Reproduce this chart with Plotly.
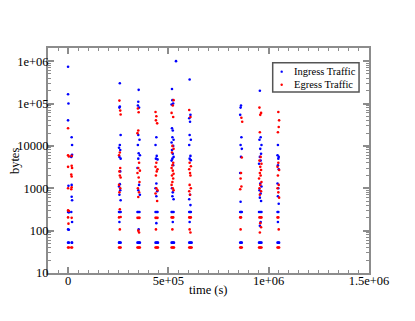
import plotly.graph_objects as go

# ingress traffic: (time in s, bytes), one line per burst
ingress_time = [
    0, 0, 2000, 0, 18000, 20000, 18000, 20000, 16000, 18000, 2000, 18000, 20000, 0, 4000, 16000, 20000, 0, 4000, 0, 4000, 18000, 20000,
    258000, 258000, 256000, 262000, 258000, 254000, 260000, 256000, 262000, 258000, 254000, 260000, 256000, 262000, 258000, 254000, 262000, 256000, 260000, 254000, 258000, 262000, 256000,
    352000, 350000, 348000, 354000, 350000, 356000, 348000, 352000, 358000, 350000, 346000, 354000, 350000, 358000, 346000, 350000, 356000, 352000, 346000, 350000, 354000, 358000,
    440000, 436000, 442000, 438000, 446000, 440000, 436000, 444000, 440000, 436000, 442000, 446000, 440000, 436000, 440000, 444000, 448000,
    538000, 518000, 520000, 524000, 516000, 518000, 522000, 520000, 526000, 516000, 524000, 518000, 522000, 526000, 520000, 516000, 524000, 518000, 522000, 520000, 526000, 516000, 520000, 526000, 522000, 516000, 520000, 524000, 528000,
    606000, 610000, 604000, 608000, 606000, 612000, 604000, 610000, 606000, 612000, 608000, 604000, 610000, 604000, 608000, 612000, 606000, 604000, 608000, 612000, 616000,
    862000, 860000, 858000, 864000, 860000, 866000, 862000, 858000, 860000, 858000, 862000, 866000, 858000, 862000, 866000,
    956000, 960000, 954000, 964000, 958000, 962000, 956000, 960000, 952000, 958000, 964000, 954000, 960000, 956000, 962000, 952000, 958000, 964000, 960000, 956000, 952000, 956000, 960000, 964000,
    1046000, 1044000, 1050000, 1048000, 1046000, 1050000, 1044000, 1048000, 1046000, 1050000, 1044000, 1048000, 1046000, 1044000, 1048000, 1052000,
]
ingress_bytes = [
    740000, 165000, 100000, 40000, 16000, 10500, 5800, 6200, 5500, 1200, 1150, 630, 520, 275, 270, 275, 160, 107, 105, 52, 52, 52, 52,
    300000, 85000, 80000, 18000, 10500, 9000, 8000, 5500, 5000, 1250, 1100, 900, 700, 520, 275, 275, 275, 160, 2500, 52, 52, 52, 52,
    210000, 110000, 90000, 80000, 18000, 14000, 10500, 6700, 6000, 5000, 3000, 1200, 900, 700, 275, 275, 275, 107, 52, 52, 52, 52,
    16000, 10500, 5800, 5000, 4800, 1300, 1000, 850, 650, 275, 275, 275, 150, 52, 52, 52, 52,
    1000000, 220000, 120000, 100000, 95000, 26000, 23000, 16000, 14000, 12000, 10000, 8000, 6500, 5500, 5000, 4500, 3500, 1000, 800, 650, 550, 275, 275, 275, 160, 52, 52, 52, 52,
    370000, 54000, 45000, 37000, 18000, 14000, 10500, 5800, 5000, 4600, 700, 550, 400, 275, 275, 275, 160, 52, 52, 52, 52,
    90000, 80000, 54000, 16000, 10500, 8500, 5500, 2300, 480, 275, 275, 275, 52, 52, 52,
    200000, 16000, 14000, 10500, 8500, 6500, 5500, 4500, 3800, 1300, 1100, 900, 750, 600, 500, 275, 275, 275, 160, 130, 52, 52, 52, 52,
    10500, 6000, 5500, 5000, 3500, 2800, 1300, 1000, 650, 430, 275, 275, 160, 52, 52, 52,
]

# egress traffic: (time in s, bytes)
egress_time = [
    0, 0, 4000, 18000, 0, 18000, 20000, 16000, 18000, 0, 16000, 18000, 0, 4000, 0, 18000, 2000, 0, 4000, 16000, 20000,
    256000, 260000, 262000, 258000, 254000, 260000, 256000, 258000, 262000, 254000, 260000, 256000, 258000, 262000, 254000, 258000, 254000, 258000, 262000,
    348000, 352000, 350000, 346000, 354000, 350000, 358000, 346000, 352000, 356000, 348000, 354000, 350000, 346000, 352000, 356000, 350000, 354000, 346000, 350000, 354000, 358000,
    436000, 440000, 438000, 444000, 440000, 436000, 446000, 442000, 438000, 440000, 446000, 436000, 444000, 436000, 440000, 446000, 438000, 436000, 440000, 444000, 448000,
    526000, 522000, 516000, 524000, 520000, 526000, 518000, 524000, 520000, 516000, 522000, 526000, 518000, 524000, 520000, 516000, 522000, 526000, 516000, 520000, 524000, 520000, 516000, 520000, 524000, 528000,
    604000, 610000, 606000, 612000, 604000, 608000, 610000, 606000, 612000, 604000, 608000, 604000, 608000, 612000, 606000, 610000, 604000, 608000, 612000, 616000,
    864000, 868000, 866000, 862000, 860000, 864000, 858000, 858000, 862000, 860000, 858000, 862000, 866000,
    954000, 962000, 958000, 956000, 960000, 954000, 964000, 958000, 962000, 956000, 960000, 952000, 964000, 958000, 954000, 962000, 956000, 960000, 954000, 964000, 958000, 962000, 956000, 952000, 956000, 960000, 964000,
    1048000, 1052000, 1050000, 1046000, 1048000, 1044000, 1052000, 1046000, 1050000, 1044000, 1048000, 1052000, 1044000, 1048000, 1050000, 1044000, 1048000, 1052000,
]
egress_bytes = [
    26000, 6000, 5600, 5800, 3200, 3400, 3000, 2100, 1900, 1000, 950, 1050, 300, 290, 205, 200, 146, 40, 40, 40, 40,
    117000, 68000, 55000, 7000, 6000, 3000, 2500, 2000, 1800, 1200, 1000, 800, 320, 210, 205, 107, 40, 40, 40,
    76000, 62000, 23000, 20000, 4000, 3000, 2600, 2300, 1800, 1400, 1000, 800, 620, 200, 200, 200, 100, 90, 40, 40, 40, 40,
    63000, 50000, 40000, 34000, 4000, 3200, 2800, 2500, 2000, 1000, 900, 750, 500, 200, 200, 200, 107, 40, 40, 40, 40,
    120000, 90000, 60000, 48000, 10000, 8500, 7000, 4000, 3500, 3000, 2600, 2200, 2000, 1700, 1400, 1200, 1000, 900, 205, 205, 205, 107, 40, 40, 40, 40,
    70000, 48000, 4000, 3300, 2800, 2300, 2000, 1200, 1000, 850, 700, 205, 205, 205, 107, 90, 40, 40, 40, 40,
    46000, 37000, 5300, 2300, 1700, 1100, 950, 205, 205, 107, 40, 40, 40,
    80000, 60000, 54000, 21000, 5500, 4500, 3800, 3200, 2700, 2300, 2000, 1700, 1400, 1200, 1000, 850, 700, 205, 205, 205, 150, 120, 90, 40, 40, 40, 40,
    63000, 40000, 28000, 21000, 4000, 3200, 2700, 2000, 1200, 1000, 800, 600, 205, 205, 107, 40, 40, 40,
]

series_names = ["Ingress Traffic", "Egress Traffic"]
series_colors = ["#0000ff", "#ff0000"]

x_tickvals = [0, 500000, 1000000, 1500000]
x_ticktext = ["0", "5e+05", "1e+06", "1.5e+06"]
y_tickvals = [10, 100, 1000, 10000, 100000, 1000000]
y_ticktext = ["10", "100", "1000", "10000", "1e+05", "1e+06"]

serif = "Liberation Serif"
axis_grey = "#8c8c8c"

fig = go.Figure()

for name, color, xs, ys in zip(series_names, series_colors,
                               [ingress_time, egress_time],
                               [ingress_bytes, egress_bytes]):
    fig.add_trace(go.Scatter(
        x=xs, y=ys, mode="markers", name=name, showlegend=False,
        marker=dict(color=color, size=2.6, line_width=0)
    ))

# minor ticks of the log axis: 2..9 in each decade
y_minor = [m * 10 ** k for k in range(1, 7) for m in range(2, 10)]

fig.update_xaxes(
    range=[-100000, 1500000], automargin=False,
    tickvals=x_tickvals, ticktext=x_ticktext, ticklabelstandoff=-5,
    ticks="inside", ticklen=6, tickwidth=1.5, tickcolor=axis_grey,
    minor=dict(dtick=50000, tick0=0, ticks="inside", ticklen=3, tickcolor=axis_grey, tickwidth=1),
    showline=True, linecolor=axis_grey, linewidth=2, mirror="allticks",
    showgrid=False, zeroline=False,
)
fig.update_yaxes(
    type="log", range=[1, 6.31], automargin=False,
    tickvals=y_tickvals, ticktext=y_ticktext, ticklabelstandoff=-5,
    ticks="inside", ticklen=6, tickwidth=1.5, tickcolor=axis_grey,
    minor=dict(tickvals=y_minor, ticks="inside", ticklen=3, tickcolor=axis_grey, tickwidth=1),
    showline=True, linecolor=axis_grey, linewidth=2, mirror="allticks",
    showgrid=False, zeroline=False,
)

# axis titles placed as in the original
fig.add_annotation(xref="paper", yref="paper", x=0.5, y=-0.076,
                   xanchor="center", yanchor="middle", showarrow=False,
                   text="time (s)", font=dict(family=serif, size=12.5))
fig.add_annotation(xref="paper", yref="paper", x=-0.104, y=0.5, textangle=-90,
                   xanchor="center", yanchor="middle", showarrow=False,
                   text="bytes", font=dict(family=serif, size=12.5))

# hand-drawn legend box, like the original
fig.add_shape(type="rect", xref="paper", yref="paper",
              x0=0.700, x1=0.969, y0=0.805, y1=0.935,
              line=dict(color="#555555", width=1.5), fillcolor="white", layer="above")
for i, (name, color) in enumerate(zip(series_names, series_colors)):
    ypos = 0.895 - i * 0.058
    fig.add_shape(type="circle", xref="paper", yref="paper",
                  xsizemode="pixel", ysizemode="pixel", xanchor=0.728, yanchor=ypos,
                  x0=-1.2, x1=1.2, y0=-1.2, y1=1.2,
                  fillcolor=color, line_width=0, layer="above")
    fig.add_annotation(xref="paper", yref="paper", x=0.760, y=ypos,
                       xanchor="left", yanchor="middle", showarrow=False,
                       text=name, font=dict(family=serif, size=10.5, color="black"))

# the page puts the figure 8px in from the top-left corner, so trim that here
fig.update_layout(
    width=407, height=313,
    margin=dict(l=40, r=46, t=40, b=48),
    paper_bgcolor="white", plot_bgcolor="white",
    font=dict(family=serif, size=12.5, color="black"),
    showlegend=False,
)

fig.write_html("out.html")
